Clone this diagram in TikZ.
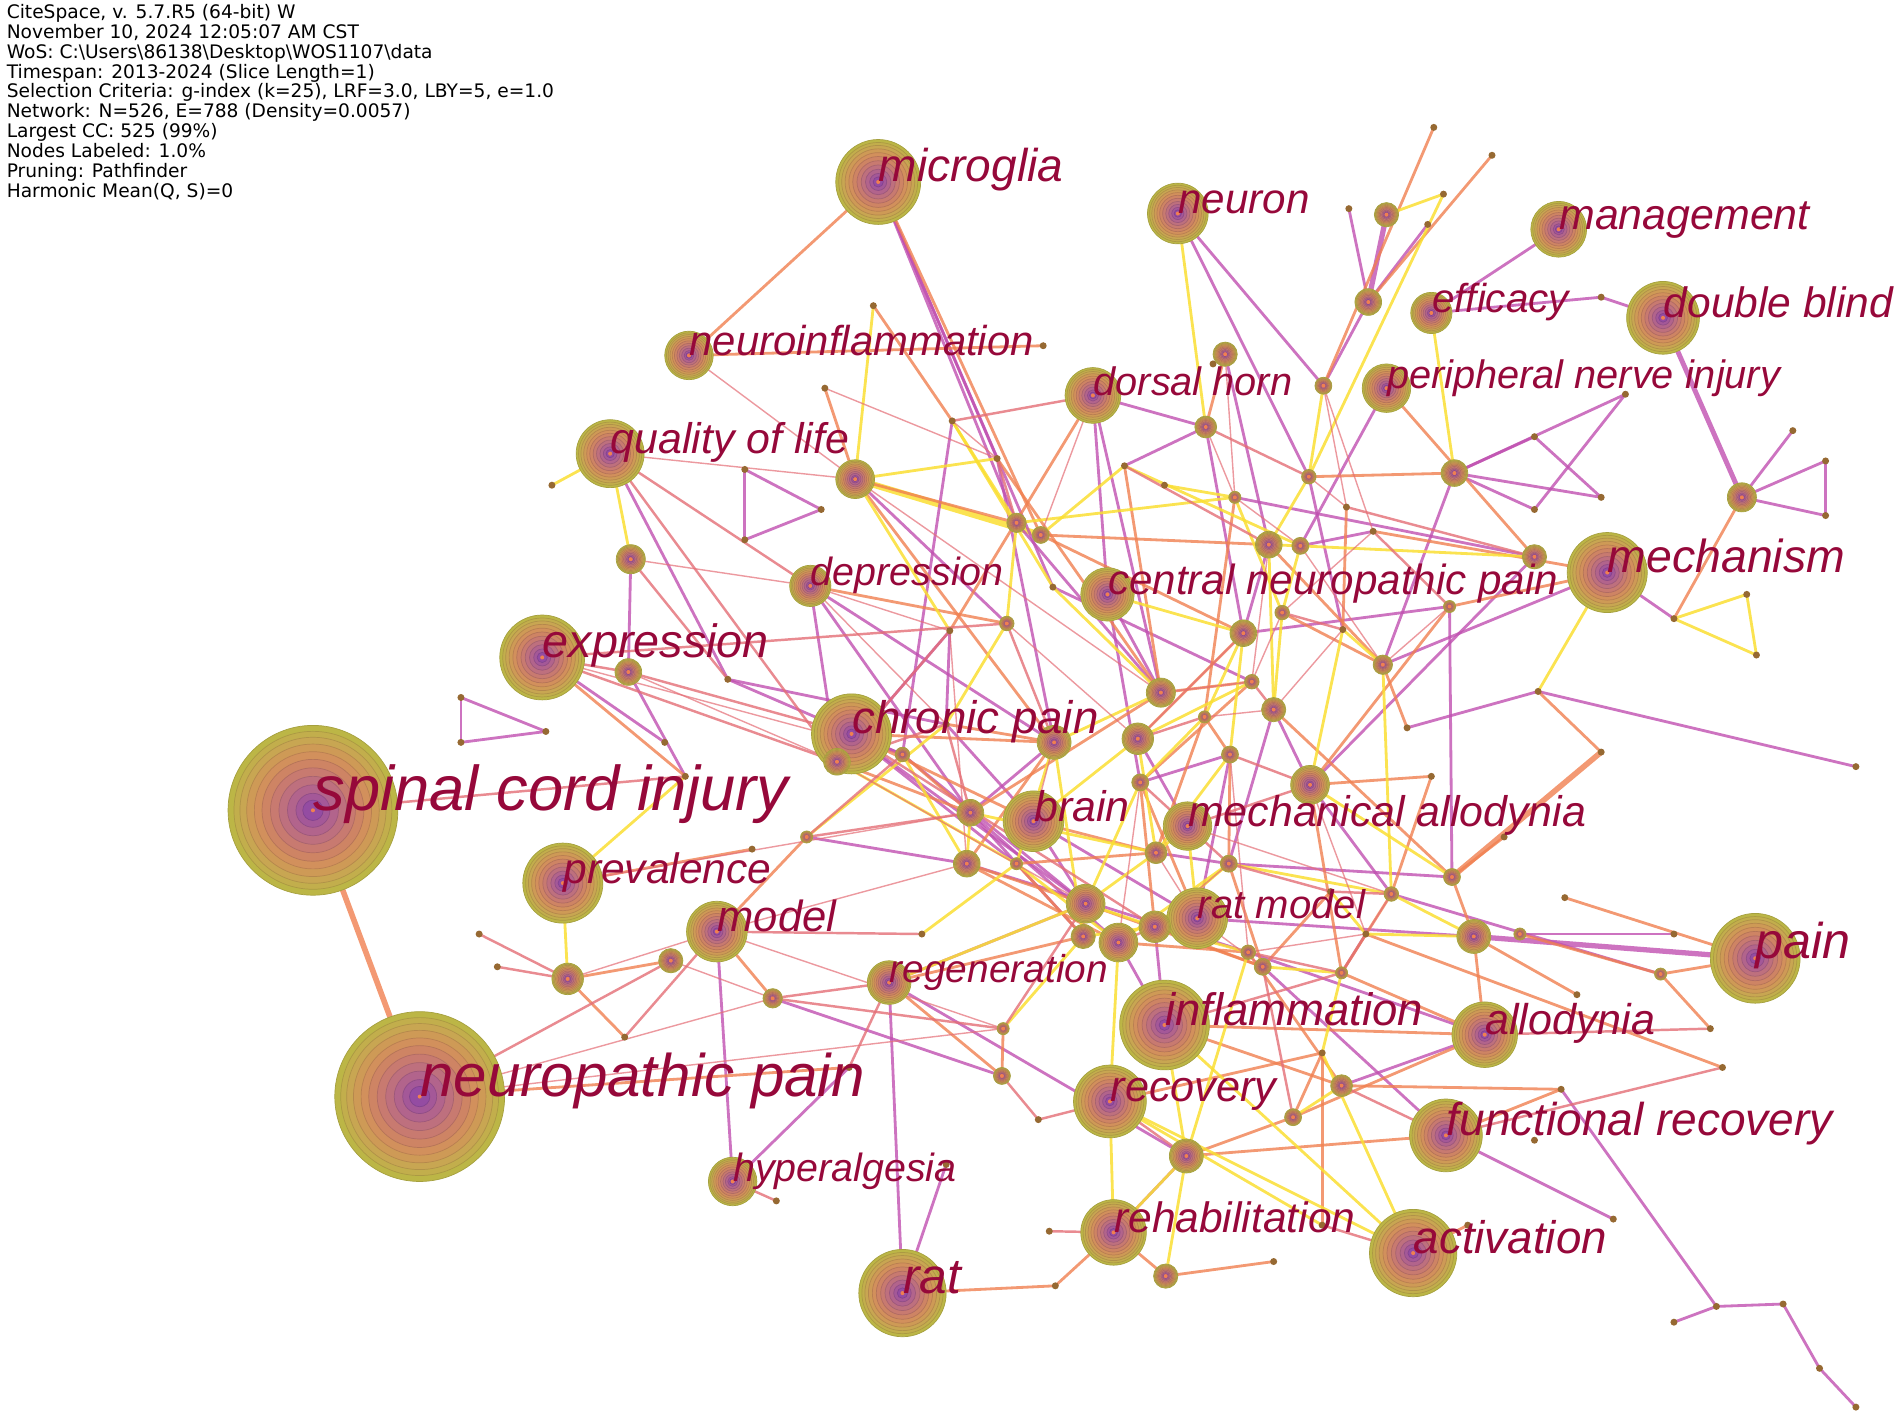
\documentclass[tikz,border=0pt]{standalone}
\usepackage{fontspec}
\setmainfont{Liberation Sans}
\newfontfamily\hdrfont{DejaVu Sans}

\definecolor{labc}{RGB}{150,8,58}
\definecolor{rg0}{RGB}{188,182,70}
\definecolor{rg1}{RGB}{194,174,76}
\definecolor{rg2}{RGB}{200,166,82}
\definecolor{rg3}{RGB}{206,154,86}
\definecolor{rg4}{RGB}{210,144,92}
\definecolor{rg5}{RGB}{206,132,100}
\definecolor{rg6}{RGB}{200,122,112}
\definecolor{rg7}{RGB}{190,112,126}
\definecolor{rg8}{RGB}{178,100,140}
\definecolor{rg9}{RGB}{164,88,152}
\definecolor{rg10}{RGB}{148,76,162}
\definecolor{dotc}{RGB}{150,105,50}
\definecolor{purp}{RGB}{192,80,176}
\definecolor{orng}{RGB}{240,128,80}
\definecolor{yell}{RGB}{250,222,50}
\definecolor{rose}{RGB}{228,110,118}

\tikzset{
  ep/.style={draw=purp, line width=0.8pt, opacity=0.8},
  eo/.style={draw=orng, line width=0.8pt, opacity=0.8},
  ey/.style={draw=yell, line width=0.8pt, opacity=0.85},
  er/.style={draw=rose, line width=0.7pt, opacity=0.8},
  thin link/.style={line width=0.4pt, opacity=0.7},
  lab/.style={anchor=base west, inner sep=0pt, text=labc}
}

% concentric rings of a keyword node
\newcommand{\citenode}[3]{%
  \foreach \k/\f/\c in {0/1/rg0,1/.93/rg1,2/.86/rg2,3/.78/rg3,4/.69/rg4,5/.6/rg5,
      6/.5/rg6,7/.4/rg7,8/.3/rg8,9/.2/rg9,10/.12/rg10}{%
    \pgfmathsetmacro{\rr}{#3*\f}%
    \filldraw[fill=\c, draw=\c!88!black, line width=0.2pt] (#1,#2) circle[radius=\rr*0.01213cm];
  }%
  \fill[orng] (#1,#2) circle[radius=0.02cm];
}

\def\ringlist{sci/258/668/70, np/346/904/70, microglia/724/150/35, neuron/971/176/25,
  mgmt/1285/189/23, dblind/1371/262/30, efficacy/1180/258/17, pni/1143/320/20,
  neuroinf/568/293/20, dhorn/901/326/23, qol/503/374/28, depr/668/483/17,
  cnp/913/490/22, mech/1325/472/33, expr/447/542/35, cpain/702/605/33,
  brain/852/677/25, mallo/979/681/20, prev/464/728/33, model/591/768/25,
  ratmodel/987/757/25, regen/733/810/18, inflam/960/845/37, allo/1224/853/27,
  pain/1447/790/37, recov/915/908/30, frecov/1192/936/30, hyper/604/974/20,
  rehab/918/1016/27, activ/1165/1033/36, rat/744/1066/36,
  a1/1143/177/10, a2/1128/249/11, a4/1010/292/10, a5/1091/318/7, a6/994/352/9,
  a7/1199/390/11, a8/1436/410/12, a10/705/395/16, a11/520/461/12, a12/518/554/11,
  a15/838/431/8, a16/858/441/7, a19/1018/410/5, a20/1079/393/6, a21/1046/449/11,
  a22/1072/450/7, a25/1265/459/10, a26/1195/500/5, a27/1025/522/11, a28/1057/505/6,
  a30/1140/548/8, a31/1032/562/6, a32/1050/585/10, a33/957/571/12, a34/993/591/5,
  a35/938/609/13, a36/869/612/14, a37/1014/622/7, a38/940/645/7, a39/1080/647/16,
  a41/830/514/6, a43/744/622/6, a44/690/628/11, a46/800/670/11, a47/797/712/11,
  a48/838/712/5, a49/895/745/16, a50/922/777/16, a51/893/772/10, a52/952/764/13,
  a53/1013/712/7, a54/953/703/9, a55/1041/797/7, a56/1029/785/6, a57/1106/802/5,
  a58/1197/723/7, a59/1215/772/14, a60/1253/770/5, a61/1369/803/5, a62/1147/737/6,
  a64/665/690/5, a65/637/823/8, a66/553/792/10, a67/468/807/13, a68/826/887/7,
  a70/827/848/5, a71/978/953/14, a72/1066/921/7, a73/1106/895/9, a74/961/1052/10}

\def\dotlist{a3/1177/185, a9/720/252, a13/785/347, a14/822/378, a17/868/484,
  a18/927/384, a23/1110/418, a24/1132/438, a29/1107/519, a40/1268/570, a42/783/520,
  a45/780/597, a63/1097/735, a69/856/923, a75/1265/940, a76/1287/898, a80/1090/868,
  a81/1126/770, t1/1112/172, t2/1505/380, t3/1505/425, t4/1478/355, t5/1230/128,
  t6/1182/105, t7/1320/245, t8/1340/325, t9/1265/360, t10/1265/420, t11/1320/410,
  t12/1380/510, t13/1448/540, t14/1440/490, t15/1530/632, t16/1415/1077, t17/1470/1075,
  t18/1500/1128, t19/1380/1090, t20/614/387, t21/614/445, t22/677/420, t23/380/575,
  t24/380/612, t25/450/603, t26/455/400, t27/410/797, t28/395/770, t29/515/855,
  t30/640/990, t31/860/285, t32/680/320, t33/1320/620, t34/1420/880, t35/1410/848,
  t36/1330/1005, t37/1090/1010, t38/865/1015, t39/548/612, t40/565/640, t41/1190/160,
  t42/960/400, t43/1000/300, t44/1530/1160, t45/1380/770, t46/1300/820, t47/600/560,
  t48/620/700, t49/760/770, t50/1180/640, t51/1240/690, t52/1290/740, t53/1050/1040,
  t54/1210/1010, t55/870/1060, t56/700/880, t57/780/960, t58/1160/600}

\begin{document}
\begin{tikzpicture}[x=0.01213cm, y=-0.01213cm]
\useasboundingbox (0,0) rectangle (1568,1171);

% positions
\foreach \n/\x/\y/\r in \ringlist {\coordinate (\n) at (\x,\y);}
\foreach \n/\x/\y in \dotlist {\coordinate (\n) at (\x,\y);}

% links
\draw[eo, line width=1.6pt] (sci) -- (np);
\draw[ey, line width=1.8pt] (a10) -- (a16);
\draw[eo, line width=1.6pt] (a58) -- (t33);
\draw[ep, line width=1.5pt] (a1) -- (a2);
\draw[ep, line width=1.5pt] (a59) -- (pain);
\draw[ep, line width=1.4pt] (dblind) -- (a8);
\foreach \a/\b in {neuron/a5, a2/t1, a2/a5, mgmt/efficacy, efficacy/t7, t7/dblind,
  a8/t2, a8/t3, t2/t3, a8/t4, a7/t9, a7/t10, a7/t11, t9/t11, t10/t8, t8/a7,
  microglia/a14, microglia/a17, t20/t21, t21/t22, t22/t20, t23/t24, t24/t25, t23/t25,
  a11/a12, model/hyper, regen/rat, a76/t16, t16/t17, t17/t18, t16/t19, t18/t44,
  a40/t15, cpain/a43, depr/a36, dhorn/cnp, cnp/a33, mech/t12, a15/a33, a21/a27,
  a36/a46, a39/a62, brain/a49, a46/a51, a50/inflam, ratmodel/a59, a54/a53, a27/a26,
  a19/a25, a38/a37, a35/mallo, cpain/a48, a42/a45, depr/a44, a53/a58, qol/t47,
  a6/a18, a4/t43, dhorn/a6, a22/a24, a30/mech, a32/a39, a43/a49, a47/a56, a57/a81,
  a60/t45, allo/a73, frecov/t36, rehab/a71, rat/t57, hyper/t56, a65/a68, a12/t40,
  expr/t39, a64/a47, a44/a42, a17/a31, cnp/a38,
  a10/a41, a14/a36, a13/a43, microglia/a15, dhorn/a33, a4/a21, a6/a27, neuron/a20,
  a20/a29, pni/a22, a7/a30, a25/a39, a26/a58, a32/a53, a37/ratmodel, brain/ratmodel,
  a46/a50, cpain/a49, depr/a46, t47/a43, a45/brain, a52/inflam, a56/allo, a55/frecov,
  a49/regen, regen/a71, a62/a61, t58/a40, a3/a2, t47/a45}
  \draw[ep] (\a) -- (\b);
\foreach \a/\b in {microglia/neuroinf, microglia/a16, a10/a15, depr/a41, expr/t40,
  cpain/brain, cpain/a36, brain/a54, a38/ratmodel, a26/mech, a61/pain, allo/a72,
  inflam/allo, frecov/a76, rehab/a74, regen/a68, a65/model, a66/a67, a47/a50,
  a52/a55, a57/allo, a81/t34, t35/a61, a5/t6, a2/t5, a20/a7, pni/a25, a28/a30,
  a34/a37, a31/a33, dhorn/a42, a16/a21, neuroinf/t31, a10/t32, a44/a46, a48/a54,
  a49/a55, inflam/a73, a71/a72, recov/a80, a59/t46, t50/a62, t51/a58, t52/pain,
  a60/a61, prev/t48, a67/t29, np/t56, a74/t53, rat/t55, activ/t54, a39/t50, a30/t58,
  a9/a13, a10/a36, a14/a33, a16/a27, a18/a33, a19/a34, a21/a30, a23/a29, a24/mech,
  a26/a39, a27/a35, a31/a38, a32/a58, a33/a46, a34/a54, a36/a47, a37/a53, a38/a52,
  a39/a57, a43/a46, a45/a36, a47/a49, a48/a51, a50/a56, a51/regen, a53/a55,
  a56/a73, a58/a59, a59/allo, a62/a57, a63/a55, a64/model, a70/a68, a72/a80,
  a73/a76, a80/t37, rehab/t55, a71/frecov, a8/t12, a4/a6, a40/t33}
  \draw[eo] (\a) -- (\b);
\foreach \a/\b in {a22/a28, a29/a30, cnp/a27, a33/a36, brain/a35, a46/a47, a49/a52,
  mallo/ratmodel, inflam/activ, recov/rehab, a71/a74, a80/activ, qol/t26, qol/a11,
  prev/t40, prev/a67, a20/a5, efficacy/a7, t41/a20, t12/t13, t13/t14, t14/t12,
  a40/mech, a15/a19, a21/a32, a27/a37, a35/a54, a36/a51, a51/a52, a52/a53,
  a50/recov, inflam/a71, a55/a57, a62/a59, recov/t37, a48/t49, regen/a49, a19/t42,
  a13/a15, a10/a14, a10/a42, a13/a17, a15/a41, a16/a18, a17/a33, a18/a22, a19/a28,
  a20/a21, a21/a22, a22/a25, a27/a34, a28/a32, a29/a39, a30/a62, a31/a35, a34/a38,
  a36/a48, a37/a54, a38/a49, a39/a58, a41/a45, a43/a47, a44/a48, a46/a54, a48/a50,
  a49/a54, a50/a53, a51/a70, a52/a56, a53/a62, a54/mallo, a56/a71, a57/a80,
  a63/a81, a64/a45, recov/activ, a71/rehab, a72/a73, a81/a59, a9/a10, neuron/a6,
  t41/a1}
  \draw[ey] (\a) -- (\b);
\foreach \a/\b in {qol/depr, expr/a12, expr/a44, np/a66, t28/a67, t27/a67, model/t29,
  a65/regen, a64/a46, a44/a45, cpain/a52, a31/a32, a37/a39, a38/a53, a50/a52,
  a55/a72, a73/frecov, a71/recov, inflam/a57, hyper/t30, rehab/t38, a68/a69,
  activ/t37, allo/t35, frecov/t34, sci/t40, a11/t47, a41/a36, a42/a44, a45/a46,
  a13/dhorn, a14/a15, a6/a20, a18/a21, a23/a25, a24/a26, a28/a29, a56/a57, a63/a62,
  mallo/a39, a34/a35, a53/a63, a69/recov, a70/a49, a70/a65, t49/model, t56/regen,
  a43/a64, qol/a44, expr/a41, a12/cpain}
  \draw[er] (\a) -- (\b);
\foreach \a/\b in {a10/a33, depr/a42, depr/a45, a41/a35, a42/a47, a44/a49, a36/brain,
  a35/a27, a33/a31, a32/a34, a37/a56, a38/a50, a53/a52, a54/ratmodel, a55/ratmodel,
  a56/a81, a57/a62, mallo/a62, a39/a81, a21/a31, a22/a30, a26/a30, a28/a31, a29/a32,
  a24/a28, a19/a22, a6/a19, a4/a19, a5/a23, a5/a24, a20/a23, dhorn/a16, a13/a14,
  t32/a14, neuroinf/a10, qol/a10, a11/depr, a12/a44, expr/a43, prev/a46, model/a47,
  model/a70, a66/a65, a67/model, np/a65, np/a70}
  \draw[er, thin link] (\a) -- (\b);

% nodes
\foreach \n/\x/\y in \dotlist {\fill[dotc] (\n) circle[radius=0.035cm];}
\foreach \n/\x/\y/\r in \ringlist {\citenode{\x}{\y}{\r}}

% keyword labels
\foreach \n/\s/\t in {sci/18/spinal cord injury, np/17.1/neuropathic pain,
  microglia/13.1/microglia, neuron/12/neuron, mgmt/12.2/management,
  dblind/12.1/double blind, efficacy/11.5/efficacy, pni/11.3/peripheral nerve injury,
  neuroinf/11.9/neuroinflammation, dhorn/11.3/dorsal horn, qol/12.2/quality of life,
  depr/11.2/depression, cnp/12/central neuropathic pain, mech/13.2/mechanism,
  expr/13.3/expression, cpain/13/chronic pain, brain/12.2/brain,
  mallo/12.2/mechanical allodynia, prev/12.1/prevalence, model/12.4/model,
  ratmodel/11.4/rat model, regen/11.05/regeneration, inflam/12.95/inflammation,
  allo/12.25/allodynia, pain/14.3/pain, recov/12.3/recovery,
  frecov/13.1/functional recovery, hyper/11.2/hyperalgesia, rehab/12.1/rehabilitation,
  activ/13/activation, rat/14.1/rat}
  \node[lab, font=\fontsize{\s}{\s}\selectfont\itshape] (l-\n) at (\n) {\t};

% run summary
\node[anchor=north west, inner sep=0pt, align=left,
  font=\hdrfont\fontsize{5.3}{5.65}\selectfont] (hdr) at (5,3)
  {CiteSpace, v. 5.7.R5 (64-bit) W\\
   November 10, 2024 12:05:07 AM CST\\
   WoS: C:\textbackslash Users\textbackslash 86138\textbackslash Desktop\textbackslash WOS1107\textbackslash data\\
   Timespan: 2013-2024 (Slice Length=1)\\
   Selection Criteria: g-index (k=25), LRF=3.0, LBY=5, e=1.0\\
   Network: N=526, E=788 (Density=0.0057)\\
   Largest CC: 525 (99\%)\\
   Nodes Labeled: 1.0\%\\
   Pruning: Pathfinder\\
   Harmonic Mean(Q, S)=0};
\end{tikzpicture}
\end{document}
